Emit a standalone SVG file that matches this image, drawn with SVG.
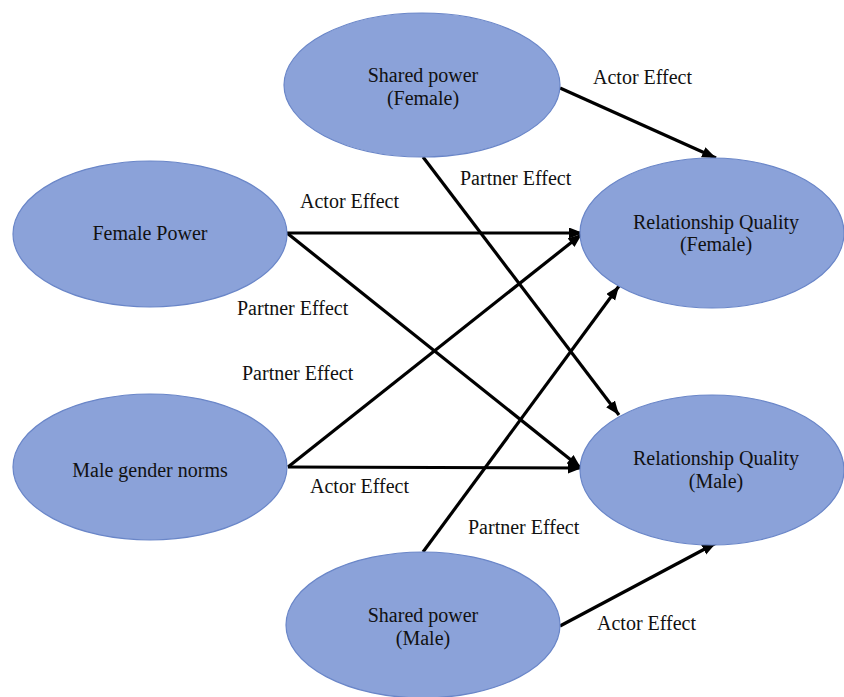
<svg xmlns="http://www.w3.org/2000/svg" width="844" height="697" viewBox="0 0 844 697" font-family="'Liberation Serif', 'DejaVu Serif', 'Times New Roman', serif">
<style>
.node ellipse{fill:#8ba2d9;stroke:#6a86c8;stroke-width:1.2}
text{font-family:'Liberation Serif','DejaVu Serif','Times New Roman',serif;font-size:20px;fill:#111}
.nt{text-anchor:middle}
.conn line{stroke:#000;stroke-width:3.2;marker-end:url(#ah)}
</style>
<defs>
<marker id="ah" markerUnits="userSpaceOnUse" markerWidth="15" markerHeight="12" refX="14" refY="5.5" orient="auto">
<path d="M0,0 L14,5.5 L0,11 Z" fill="#000"/>
</marker>
</defs>
<rect width="844" height="697" fill="#fff"/>
<g id="connectors" class="conn">
<line x1="560" y1="88" x2="716" y2="158"/>
<line x1="423" y1="157" x2="619" y2="415"/>
<line x1="287" y1="233" x2="583" y2="233"/>
<line x1="287" y1="233" x2="581" y2="468"/>
<line x1="288" y1="467" x2="582" y2="234"/>
<line x1="288" y1="467" x2="582" y2="468"/>
<line x1="423" y1="552" x2="619" y2="286"/>
<line x1="560" y1="626" x2="716" y2="543"/>
</g>
<g id="labels">
<text x="593" y="84">Actor Effect</text>
<text x="460" y="185">Partner Effect</text>
<text x="300" y="208">Actor Effect</text>
<text x="237" y="315">Partner Effect</text>
<text x="242" y="380">Partner Effect</text>
<text x="310" y="493">Actor Effect</text>
<text x="468" y="534">Partner Effect</text>
<text x="597" y="630">Actor Effect</text>
</g>
<g id="shared-power-female" class="node">
<ellipse cx="422" cy="85" rx="138" ry="72"/>
<text class="nt" x="423" y="82">Shared power</text>
<text class="nt" x="423" y="105">(Female)</text>
</g>
<g id="female-power" class="node">
<ellipse cx="150" cy="234" rx="137" ry="73"/>
<text class="nt" x="150" y="240">Female Power</text>
</g>
<g id="male-gender-norms" class="node">
<ellipse cx="150" cy="467" rx="137" ry="73"/>
<text class="nt" x="150" y="477">Male gender norms</text>
</g>
<g id="rq-female" class="node">
<ellipse cx="712" cy="233" rx="132" ry="75"/>
<text class="nt" x="716" y="229">Relationship Quality</text>
<text class="nt" x="716" y="251">(Female)</text>
</g>
<g id="rq-male" class="node">
<ellipse cx="712" cy="470" rx="132" ry="75"/>
<text class="nt" x="716" y="465">Relationship Quality</text>
<text class="nt" x="716" y="488">(Male)</text>
</g>
<g id="shared-power-male" class="node">
<ellipse cx="423" cy="625" rx="137" ry="73"/>
<text class="nt" x="423" y="622">Shared power</text>
<text class="nt" x="423" y="645">(Male)</text>
</g>
</svg>
